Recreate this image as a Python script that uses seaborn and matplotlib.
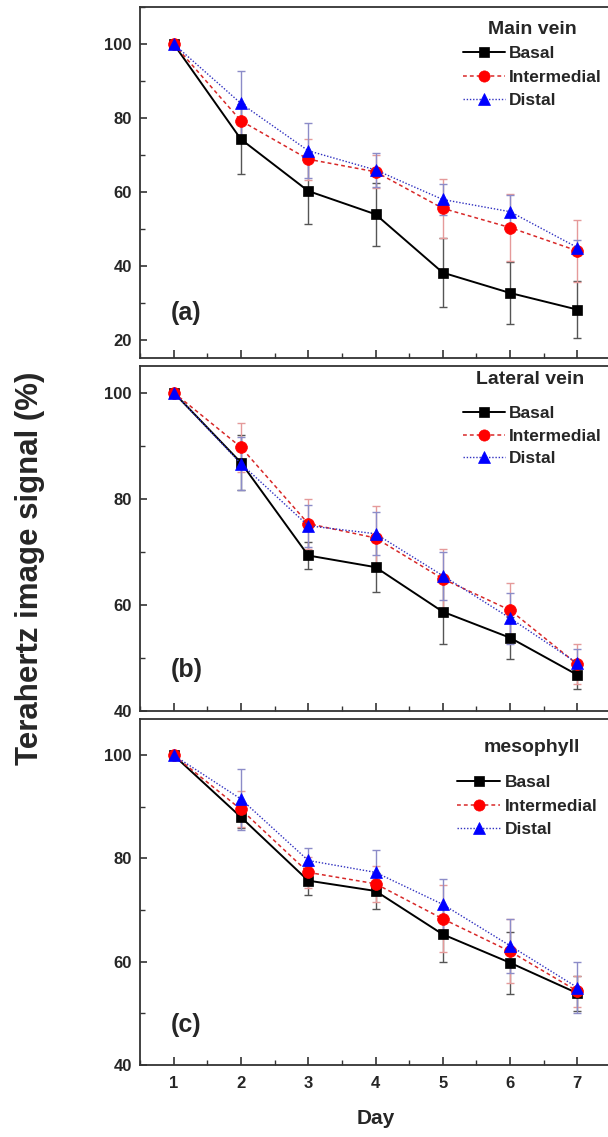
import matplotlib
matplotlib.use("Agg")
import matplotlib.pyplot as plt
from matplotlib.lines import Line2D
from matplotlib.ticker import MultipleLocator
import seaborn as sns
import pandas as pd

days = [1, 2, 3, 4, 5, 6, 7]
series_names = ["Basal", "Intermedial", "Distal"]
panel_titles = ["Main vein", "Lateral vein", "mesophyll"]
panel_tags = ["(a)", "(b)", "(c)"]

a_basal = [100, 74.2, 60.2, 53.9, 38.1, 32.6, 28.1]
a_basal_err = [0, 9.5, 8.8, 8.5, 9.4, 8.5, 7.7]
a_inter = [100, 79.2, 68.8, 65.4, 55.5, 50.3, 44.0]
a_inter_err = [0, 4.0, 5.5, 4.5, 8.0, 9.0, 8.3]
a_distal = [100, 83.9, 71.1, 65.9, 57.9, 54.6, 44.9]
a_distal_err = [0, 8.8, 7.4, 4.5, 4.1, 4.5, 2.0]

b_basal = [100, 86.8, 69.3, 67.1, 58.7, 53.8, 46.8]
b_basal_err = [0, 5.2, 2.6, 4.7, 6.0, 4.0, 2.6]
b_inter = [100, 89.7, 75.3, 72.6, 64.9, 59.0, 48.8]
b_inter_err = [0, 4.6, 4.7, 6.0, 5.7, 5.2, 3.8]
b_distal = [100, 86.6, 74.9, 73.4, 65.5, 57.5, 49.0]
b_distal_err = [0, 5.0, 4.0, 4.0, 4.5, 4.8, 2.7]

c_basal = [100, 88.0, 75.7, 73.7, 65.3, 59.8, 53.9]
c_basal_err = [0, 2.2, 2.8, 3.4, 5.3, 6.0, 3.4]
c_inter = [100, 89.5, 77.3, 75.1, 68.3, 62.0, 54.3]
c_inter_err = [0, 3.5, 3.0, 3.5, 6.5, 6.2, 3.0]
c_distal = [100, 91.5, 79.6, 77.3, 71.1, 63.1, 55.0]
c_distal_err = [0, 5.9, 2.4, 4.3, 5.0, 5.2, 5.0]

panels = [
    ([a_basal, a_inter, a_distal], [a_basal_err, a_inter_err, a_distal_err]),
    ([b_basal, b_inter, b_distal], [b_basal_err, b_inter_err, b_distal_err]),
    ([c_basal, c_inter, c_distal], [c_basal_err, c_inter_err, c_distal_err]),
]

sns.set_style("ticks")
plt.rcParams["font.family"] = ["Liberation Sans", "DejaVu Sans"]
plt.rcParams["font.weight"] = "bold"

W, H = 608, 1137
fig = plt.figure(figsize=(W / 100, H / 100), dpi=100)

def px_axes(left, top, right, bottom):
    return fig.add_axes([left / W, 1 - bottom / H, (right - left) / W, (bottom - top) / H])

ax_boxes = [(140, 7, 611, 358), (140, 366, 611, 711), (140, 719, 611, 1065)]
ylims = [(15, 110), (40, 105), (40, 107)]
yticks = [[20, 40, 60, 80, 100], [40, 60, 80, 100], [40, 60, 80, 100]]

styles = [
    dict(color="black", mfc="black", mec="black", marker="s", ms=7.5, lw=1.4, dashes=(None, None), ecolor="#555555"),
    dict(color="#d82828", mfc="#ff0000", mec="#ff0000", marker="o", ms=8.5, lw=1.1, dashes=(2.5, 2), ecolor="#e59a9a"),
    dict(color="#3030c0", mfc="#0000ff", mec="#0000ff", marker="^", ms=9, lw=1.0, dashes=(1, 1.3), ecolor="#8c8cc8"),
]

leg_geo = [
    dict(title_x=532, title_y=29, row0=52, dy=23.5, x0=463, x1=505, tx=509),
    dict(title_x=530, title_y=380, row0=412, dy=22.5, x0=463, x1=505, tx=509),
    dict(title_x=532, title_y=748, row0=781, dy=23.5, x0=457, x1=500, tx=505),
]
tag_pos = [(0.066, 0.128), (0.066, 0.119), (0.066, 0.116)]

for i, ((vals, errs), box) in enumerate(zip(panels, ax_boxes)):
    ax = px_axes(*box)
    for v, e, st in zip(vals, errs, styles):
        ax.errorbar(days, v, yerr=e, fmt="none", ecolor=st["ecolor"], elinewidth=1.0,
                    capsize=3, capthick=1.0, zorder=2)
    for name, v, st in zip(series_names, vals, styles):
        df = pd.DataFrame({"Day": days, "Signal": v})
        kw = dict(color=st["color"], marker=st["marker"], markersize=st["ms"],
                  markerfacecolor=st["mfc"], markeredgecolor=st["mec"], markeredgewidth=0.5,
                  linewidth=st["lw"])
        if st["dashes"][0] is not None:
            kw["dashes"] = st["dashes"]
        sns.lineplot(data=df, x="Day", y="Signal", ax=ax, legend=False, zorder=3, **kw)
    ax.set_xlim(0.5, 7.5)
    ax.set_ylim(*ylims[i])
    ax.set_yticks(yticks[i])
    ax.yaxis.set_minor_locator(MultipleLocator(10))
    ax.set_xticks(days)
    ax.xaxis.set_minor_locator(MultipleLocator(0.5))
    ax.tick_params(axis="both", which="both", direction="in", color="#333333")
    ax.tick_params(axis="both", which="major", length=6, width=1.2, labelsize=12, pad=6)
    ax.tick_params(axis="x", which="major", pad=8)
    ax.tick_params(axis="both", which="minor", length=3.5, width=1.0)
    ax.tick_params(axis="y", which="major", length=5)
    for lab in ax.get_yticklabels() + ax.get_xticklabels():
        lab.set_fontweight("bold")
    ax.set_ylabel("")
    if i < 2:
        ax.set_xlabel("")
        ax.tick_params(axis="x", labelbottom=False)
    else:
        ax.set_xlabel("Day", fontsize=15, fontweight="bold", labelpad=13)
    for s in ax.spines.values():
        s.set_color("#333333")
        s.set_linewidth(1.3)
    ax.spines["right"].set_visible(False)
    ax.text(tag_pos[i][0], tag_pos[i][1], panel_tags[i], transform=ax.transAxes,
            fontsize=18, fontweight="bold", ha="left", va="center")

    g = leg_geo[i]
    handles = []
    for st in styles:
        kw = dict(color=st["color"], marker=st["marker"], markersize=st["ms"] * 0.95,
                  markerfacecolor=st["mfc"], markeredgecolor=st["mec"], markeredgewidth=0.5,
                  linewidth=st["lw"])
        if st["dashes"][0] is not None:
            kw["dashes"] = st["dashes"]
        handles.append(Line2D([], [], **kw))
    handlelen_px = g["x1"] - g["x0"]
    fs = 12.5
    fs_px = fs * 100 / 72
    ax.legend(handles, series_names, loc="upper left",
              bbox_to_anchor=(g["x0"] / W, 1 - (g["row0"] - fs_px * 0.33) / H),
              bbox_transform=fig.transFigure, frameon=False,
              prop=dict(size=fs, weight="bold"),
              handlelength=handlelen_px / fs_px, handletextpad=(g["tx"] - g["x1"]) / fs_px,
              labelspacing=(g["dy"] - fs_px) / fs_px + 0.12, borderpad=0, borderaxespad=0)
    fig.text(g["title_x"] / W, 1 - g["title_y"] / H, panel_titles[i], fontsize=14,
             fontweight="bold", ha="center", va="center")

fig.text(0.05, 1 - 568 / H, "Terahertz image signal (%)", rotation=90, fontsize=22.5,
         fontweight="bold", ha="center", va="center")

fig.savefig("out.png", dpi=100)
